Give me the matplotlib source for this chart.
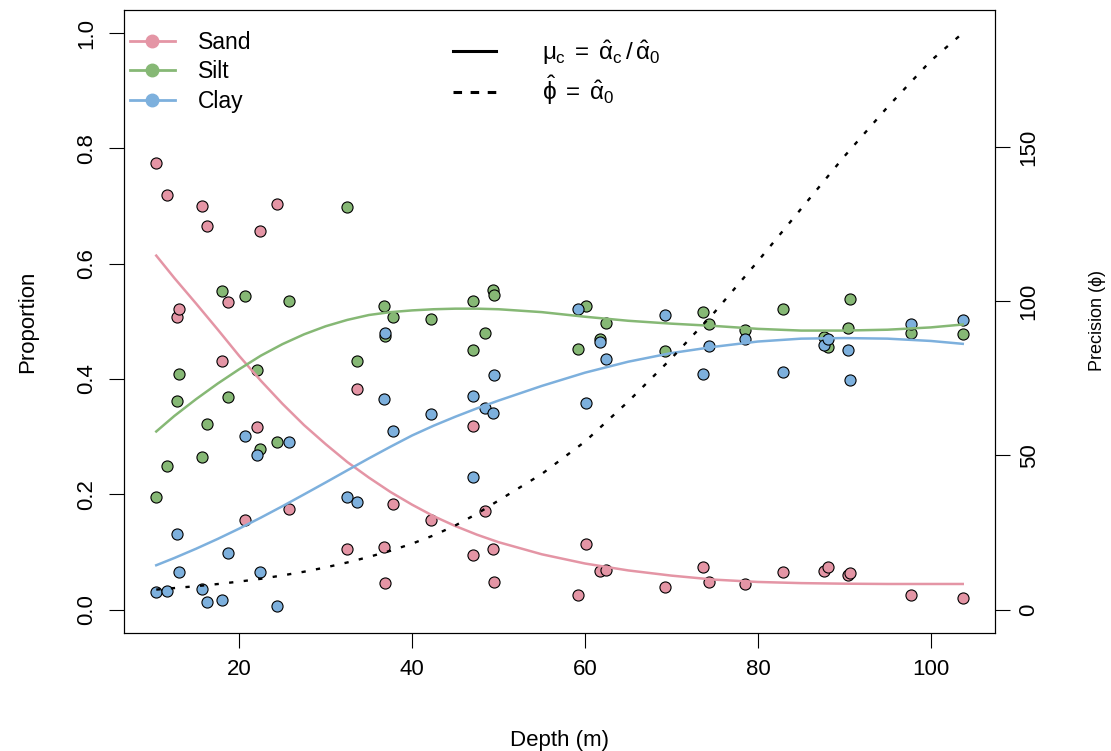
import matplotlib.pyplot as plt
from matplotlib.lines import Line2D

plt.rcParams['font.family'] = ['Liberation Sans', 'DejaVu Sans']
plt.rcParams['mathtext.fontset'] = 'custom'
plt.rcParams['mathtext.rm'] = 'Liberation Sans'
plt.rcParams['mathtext.it'] = 'Liberation Sans'

# Arctic lake sediment data
depth = [10.4, 11.7, 12.8, 13.0, 15.7, 16.3, 18.0, 18.7, 20.7, 22.1, 22.4, 24.4, 25.8,
         32.5, 33.6, 36.8, 37.8, 36.9, 42.2, 47.0, 47.1, 48.4, 49.4, 49.5, 59.2, 60.1,
         61.7, 62.4, 69.3, 73.6, 74.4, 78.5, 82.9, 87.7, 88.1, 90.4, 90.6, 97.7, 103.7]
sand = [0.775, 0.719, 0.507, 0.522, 0.700, 0.665, 0.431, 0.534, 0.155, 0.317, 0.657,
        0.704, 0.174, 0.106, 0.382, 0.108, 0.184, 0.046, 0.156, 0.319, 0.095, 0.171,
        0.105, 0.048, 0.026, 0.114, 0.067, 0.069, 0.040, 0.074, 0.048, 0.045, 0.066,
        0.067, 0.074, 0.060, 0.063, 0.025, 0.020]
silt = [0.195, 0.249, 0.361, 0.409, 0.265, 0.322, 0.553, 0.368, 0.544, 0.415, 0.278,
        0.290, 0.536, 0.698, 0.431, 0.527, 0.507, 0.474, 0.504, 0.451, 0.535, 0.480,
        0.554, 0.545, 0.452, 0.527, 0.469, 0.497, 0.449, 0.516, 0.495, 0.485, 0.521,
        0.473, 0.456, 0.489, 0.538, 0.480, 0.478]
clay = [0.030, 0.032, 0.132, 0.066, 0.035, 0.013, 0.016, 0.098, 0.301, 0.268, 0.065,
        0.006, 0.290, 0.196, 0.187, 0.365, 0.309, 0.480, 0.340, 0.230, 0.370, 0.349,
        0.341, 0.407, 0.522, 0.359, 0.464, 0.434, 0.511, 0.409, 0.457, 0.470, 0.413,
        0.459, 0.469, 0.451, 0.399, 0.495, 0.502]

# fitted values
depth_fit = [10.4, 12.5, 15, 17.5, 20, 22.5, 25, 27.5, 30, 32.5, 35, 37.5, 40, 42.5,
             45, 47.5, 50, 55, 60, 65, 70, 75, 80, 85, 90, 95, 100, 103.7]
sand_fit = [0.614, 0.575, 0.531, 0.486, 0.440, 0.397, 0.357, 0.320, 0.287, 0.256,
            0.229, 0.204, 0.182, 0.162, 0.145, 0.130, 0.117, 0.096,
            0.080, 0.068, 0.059, 0.052, 0.048, 0.046, 0.045, 0.0445, 0.0445, 0.0445]
silt_fit = [0.309, 0.336, 0.365, 0.392, 0.417, 0.4405, 0.4605, 0.4775, 0.4915, 0.5025,
            0.511, 0.516, 0.519, 0.521, 0.522, 0.522, 0.521, 0.516,
            0.508, 0.501, 0.496, 0.492, 0.487, 0.484, 0.484, 0.4855, 0.4895, 0.4945]
clay_fit = [0.077, 0.0896, 0.1056, 0.1226, 0.1406, 0.1596, 0.1794, 0.1999, 0.2206, 0.2416,
            0.2624, 0.2826, 0.3021, 0.3191, 0.3346, 0.3491, 0.3626, 0.388,
            0.411, 0.430, 0.445, 0.456, 0.465, 0.470, 0.471, 0.470, 0.466, 0.461]
phi_fit = [6.5, 7.0, 7.6, 8.3, 9.1, 10.0, 11.1, 12.3, 13.7, 15.3, 17.1, 19.1, 21.4, 24.1,
           27.3, 31.1, 35.4, 44.0, 54.5, 67.5, 81.5, 96.5, 113, 130, 147, 163, 178, 187]

names = ['Sand', 'Silt', 'Clay']
colors = ['#E495A5', '#86B875', '#7DB0DD']

fig = plt.figure(figsize=(11.11, 7.51), dpi=100)
ax = fig.add_axes([124/1111, 1 - 632.7/751, (995 - 124)/1111, (632.7 - 10)/751])

for vals, c in zip([sand, silt, clay], colors):
    ax.scatter(depth, vals, s=64, c=c, edgecolors='black', linewidths=0.8, zorder=2)
for vals, c in zip([sand_fit, silt_fit, clay_fit], colors):
    ax.plot(depth_fit, vals, color=c, lw=1.8, zorder=3, solid_joinstyle='round')

rng = max(depth) - min(depth)
ax.set_xlim(min(depth) - 0.04*rng, max(depth) + 0.04*rng)
ax.set_ylim(-0.04, 1.04)
ax.set_xticks([20, 40, 60, 80, 100])
yt = [0, 0.2, 0.4, 0.6, 0.8, 1.0]
ax.set_yticks(yt)
ax.set_yticklabels(['%.1f' % v for v in yt])
ax.tick_params(labelsize=16, length=11, width=0.8, pad=8)
ax.tick_params(axis='y', labelrotation=90)
for lbl in ax.get_yticklabels():
    lbl.set_va('center')
ax.set_xlabel('Depth (m)', fontsize=16, labelpad=36)
ax.set_ylabel('Proportion', fontsize=16, labelpad=28)

ax2 = ax.twinx()
ax2.plot(depth_fit, phi_fit, color='black', lw=1.7, ls=(0, (1.8, 4.4)))
ax2.set_ylim(-0.04*max(phi_fit), 1.04*max(phi_fit))
ax2.set_yticks([0, 50, 100, 150])
ax2.tick_params(labelsize=16, length=11, width=0.8, pad=6, labelrotation=90)
for lbl in ax2.get_yticklabels():
    lbl.set_va('center')
ax2.set_ylabel('Precision ($\\phi$)', fontsize=13, labelpad=34)

for a in (ax, ax2):
    for sp in a.spines.values():
        sp.set_linewidth(0.8)

h1 = [Line2D([], [], color=c, lw=2, marker='o', ms=9) for c in colors]
leg1 = ax.legend(h1, names, loc='upper left', bbox_to_anchor=(0.007, 0.966),
                 frameon=False, fontsize=16.5, handlelength=1.95, handletextpad=1.0,
                 labelspacing=0.27, borderpad=0, borderaxespad=0)
ax.add_artist(leg1)

h2 = [Line2D([], [], color='black', lw=2.2),
      Line2D([], [], color='black', lw=2.2, ls=(0, (2.8, 2.8)))]
lab2 = ['$\\mu_\\mathrm{c} \\;=\\; \\hat{\\alpha}_\\mathrm{c}\\,/\\,\\hat{\\alpha}_0$',
        '$\\hat{\\phi} \\;=\\; \\hat{\\alpha}_0$']
ax.legend(h2, lab2, loc='upper left', bbox_to_anchor=(0.378, 0.955),
          frameon=False, fontsize=17.5, handlelength=1.75, handletextpad=1.9,
          labelspacing=0.3, borderpad=0, borderaxespad=0)

fig.savefig('out.png', dpi=100)
